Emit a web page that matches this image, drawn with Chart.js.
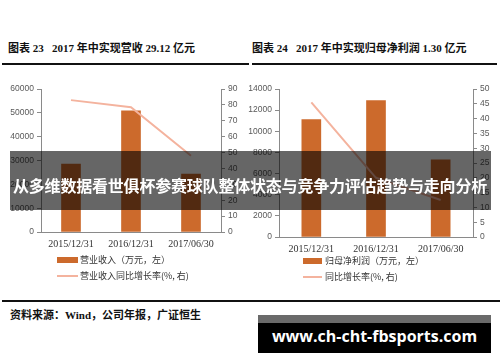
<!DOCTYPE html>
<html><head><meta charset="utf-8">
<script src="https://cdn.jsdelivr.net/npm/chart.js@4/dist/chart.umd.min.js"></script>
<style>
body{margin:0;background:#fff;}
#wrap{position:relative;width:500px;height:362px;overflow:hidden;background:#fff;font-family:"Liberation Serif","Noto Sans CJK SC",serif;}
.abs{position:absolute;}
.title{font-size:11px;font-weight:bold;color:#111;white-space:nowrap;line-height:12px;}
.rule{position:absolute;height:2px;background:#111;}
.leg{position:absolute;font-size:9px;color:#333;white-space:nowrap;line-height:10px;font-family:"Noto Sans CJK SC",sans-serif;}
.sw{position:absolute;}
#banner{position:absolute;left:10px;top:151px;width:481px;height:59px;background:rgba(0,0,0,0.6);}
#bannerText{position:absolute;left:0px;top:176px;width:500px;text-align:center;color:#fff;font-weight:bold;font-size:16px;letter-spacing:-0.2px;line-height:18px;font-family:"Noto Sans CJK SC",sans-serif;white-space:nowrap;}
#wm{position:absolute;left:258px;top:315px;width:233px;height:38px;background:#000;}
#wmTop{position:absolute;left:258px;top:315px;width:233px;height:8px;background:#6a6a6a;}
#wmText{position:absolute;left:258px;top:326px;width:233px;text-align:center;color:#fff;font-weight:bold;font-size:16px;line-height:20px;font-family:"Open Sans",sans-serif;white-space:nowrap;}
canvas{position:absolute;}
</style></head>
<body>
<div id="wrap">
  <div class="abs title" style="left:8px;top:42px;">图表 23&nbsp;&nbsp;&nbsp;2017 年中实现营收 29.12 亿元</div>
  <div class="abs title" style="left:252px;top:42px;">图表 24&nbsp;&nbsp;&nbsp;2017 年中实现归母净利润 1.30 亿元</div>
  <div class="rule" style="left:2px;top:63px;width:247px;"></div>
  <div class="rule" style="left:252px;top:63px;width:245px;"></div>

  <canvas id="c1" width="250" height="175" style="left:0;top:80px;"></canvas>
  <canvas id="c2" width="260" height="180" style="left:240px;top:80px;"></canvas>

  <div class="sw" style="left:57px;top:257px;width:21px;height:6px;background:#CC6A2C;"></div>
  <div class="leg" style="left:80px;top:255px;">营业收入（万元，左）</div>
  <div class="sw" style="left:57px;top:275px;width:21px;height:2px;background:#F4B39E;"></div>
  <div class="leg" style="left:80px;top:271px;">营业收入同比增长率(%, 右)</div>

  <div class="sw" style="left:303px;top:258px;width:19px;height:6px;background:#CC6A2C;"></div>
  <div class="leg" style="left:325px;top:256px;">归母净利润（万元，左）</div>
  <div class="sw" style="left:303px;top:276px;width:19px;height:2px;background:#F4B39E;"></div>
  <div class="leg" style="left:325px;top:272px;">同比增长率(%, 右)</div>

  <div class="rule" style="left:2px;top:300px;width:498px;"></div>
  <div class="abs title" style="left:10px;top:309px;">资料来源：Wind，公司年报，广证恒生</div>

  <div id="banner"></div>
  <div id="bannerText">从多维数据看世俱杯参赛球队整体状态与竞争力评估趋势与走向分析</div>

  <div id="wm"></div>
  <div id="wmTop"></div>
  <div id="wmText">www.ch-cht-fbsports.com</div>
</div>
<script>
// ---- data ----
const categories = ["2015/12/31", "2016/12/31", "2017/06/30"];
const revenue = [28500, 50800, 24300];          // 营业收入（万元，左）
const revenueGrowth = [83, 78.5, 48];           // 营业收入同比增长率(%, 右)
const netProfit = [11100, 12900, 7300];         // 归母净利润（万元，左）
const profitGrowth = [45.5, 20, 12.5];          // 同比增长率(%, 右)
const leftTicks1 = [0, 60000, 10000];
const rightTicks1 = [0, 90, 10];
const leftTicks2 = [0, 14000, 2000];
const rightTicks2 = [0, 50, 5];

const BAR = '#CC6A2C', LINE = '#F4B39E', AXIS = '#8a8a8a';
const tickFont = {family: 'Liberation Sans', size: 8.5};
const xFont = {family: 'Liberation Serif', size: 10};

function yAxis(pos, t, width) {
  return {
    position: pos, min: t[0], max: t[1],
    ticks: {stepSize: t[2], font: tickFont, color: '#595959', padding: 3, callback: v => String(v)},
    grid: {display: true, drawOnChartArea: false, drawTicks: true, tickLength: 4, color: AXIS},
    border: {display: true, color: AXIS, width: 1},
    afterFit: s => { s.width = width; }
  };
}
function makeChart(id, bars, line, lt, rt, lw, rw, top) {
  new Chart(document.getElementById(id), {
    data: {
      labels: categories,
      datasets: [
        {type: 'line', data: line, yAxisID: 'y1', borderColor: LINE, borderWidth: 2, pointRadius: 0, tension: 0, order: 0},
        {type: 'bar', data: bars, yAxisID: 'y', backgroundColor: BAR, barThickness: 19, order: 1}
      ]
    },
    options: {
      responsive: false, animation: false, devicePixelRatio: 1,
      layout: {padding: {top: top, left: 0, right: 0, bottom: 0}},
      plugins: {legend: {display: false}, tooltip: {enabled: false}},
      scales: {
        x: {
          ticks: {font: xFont, color: '#333', padding: 6, maxRotation: 0},
          grid: {display: true, drawOnChartArea: false, drawTicks: false, color: AXIS},
          border: {display: true, color: AXIS, width: 1},
          afterFit: s => { s.height = 23; }
        },
        y: yAxis('left', lt, lw),
        y1: yAxis('right', rt, rw)
      }
    }
  });
}
makeChart('c1', revenue, revenueGrowth, leftTicks1, rightTicks1, 41, 29, 9);
makeChart('c2', netProfit, profitGrowth, leftTicks2, rightTicks2, 39, 27, 9);
</script>
</body></html>
